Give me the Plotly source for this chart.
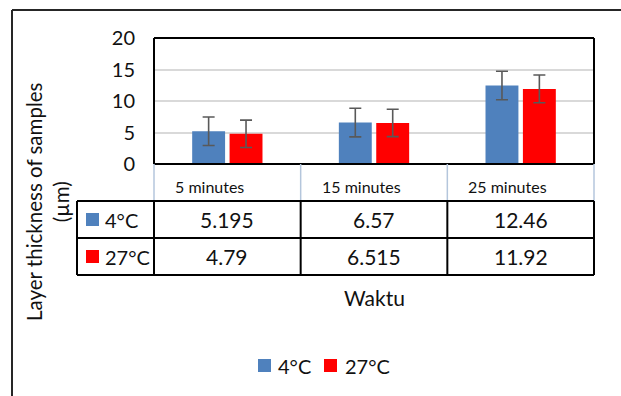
import plotly.graph_objects as go

categories = ["5 minutes", "15 minutes", "25 minutes"]
series_names = ["4°C", "27°C"]
values_4c = [5.195, 6.57, 12.46]
values_27c = [4.79, 6.515, 11.92]
err_4c = [2.27, 2.27, 2.27]
err_27c = [2.17, 2.17, 2.2]
y_ticks = [0, 5, 10, 15, 20]

W, H = 621, 396
FONT = "Lato"
TXT = "#111111"
colors = ["#4f81bd", "#ff0000"]

def px(x):
    return x / W

def py(y):
    return 1 - y / H

# layout pixel positions
PL, PR, PT, PB = 154, 594, 38, 164   # plot area
CAT_B = 201                          # category row bottom
ROW1_B, ROW2_B = 238, 275            # table rows
TL = 77                              # table left

fig = go.Figure()
for name, vals, errs, col in [(series_names[0], values_4c, err_4c, colors[0]),
                              (series_names[1], values_27c, err_27c, colors[1])]:
    fig.add_trace(go.Bar(
        x=categories, y=vals, name=name,
        marker=dict(color=col, line=dict(width=0)),
        error_y=dict(type="data", array=errs, visible=True,
                     color="#595959", thickness=1.6, width=6),
    ))

shapes = []
def line(x0, y0, x1, y1, color="#000000", width=2):
    shapes.append(dict(type="line", xref="paper", yref="paper",
                       x0=px(x0), y0=py(y0), x1=px(x1), y1=py(y1),
                       line=dict(color=color, width=width)))

# outer chart frame
line(12, 10, 621, 10, "#262626", 2)
line(12, 10, 12, 396, "#262626", 2)

# plot area border
line(PL, PT, PR, PT)
line(PL, PT, PL, PB)
line(PR, PT, PR, PB)
line(PL, PB, PR, PB)

# category row (light blue)
cat_edges = [PL + i * (PR - PL) / 3 for i in range(4)]
for xe in cat_edges:
    line(xe, PB, xe, CAT_B, "#b4c6dc", 1.5)

# data table (black)
for yy in [CAT_B, ROW1_B, ROW2_B]:
    line(TL, yy, PR, yy)
for xe in [TL] + cat_edges:
    line(xe, CAT_B, xe, ROW2_B)

annotations = []
# category labels
for i, c in enumerate(categories):
    annotations.append(dict(x=px(cat_edges[i] + 19), y=py(186), xref="paper", yref="paper",
                            text=c, showarrow=False, xanchor="left", yanchor="middle",
                            font=dict(family=FONT, size=16, color=TXT)))
# table rows
row_centers = [(CAT_B + ROW1_B) / 2, (ROW1_B + ROW2_B) / 2]
for r, (name, vals) in enumerate([(series_names[0], values_4c), (series_names[1], values_27c)]):
    yc = row_centers[r]
    shapes.append(dict(type="rect", xref="paper", yref="paper",
                       x0=px(86), x1=px(99), y0=py(yc - 6.5), y1=py(yc + 6.5),
                       fillcolor=colors[r], line=dict(width=0)))
    annotations.append(dict(x=px(103), y=py(yc), xref="paper", yref="paper", text=name,
                            showarrow=False, xanchor="left", yanchor="middle",
                            font=dict(family=FONT, size=20, color=TXT)))
    for i, v in enumerate(vals):
        annotations.append(dict(x=px((cat_edges[i] + cat_edges[i + 1]) / 2), y=py(yc),
                                xref="paper", yref="paper", text=f"{v:g}",
                                showarrow=False, xanchor="center", yanchor="middle",
                                font=dict(family=FONT, size=21, color=TXT)))

# axis titles
annotations.append(dict(x=px(48), y=py(202), xref="paper", yref="paper",
                        text="Layer thickness of samples<br>(µm)", textangle=-90,
                        showarrow=False, xanchor="center", yanchor="middle",
                        font=dict(family=FONT, size=20.5, color=TXT)))
annotations.append(dict(x=px(374), y=py(297), xref="paper", yref="paper",
                        text="Waktu", showarrow=False, xanchor="center", yanchor="middle",
                        font=dict(family=FONT, size=21, color=TXT)))

# bottom legend
legend_items = [(258, 276, series_names[0], colors[0]), (324, 343, series_names[1], colors[1])]
for sx, tx, name, col in legend_items:
    shapes.append(dict(type="rect", xref="paper", yref="paper",
                       x0=px(sx), x1=px(sx + 13), y0=py(372), y1=py(359),
                       fillcolor=col, line=dict(width=0)))
    annotations.append(dict(x=px(tx), y=py(366), xref="paper", yref="paper", text=name,
                            showarrow=False, xanchor="left", yanchor="middle",
                            font=dict(family=FONT, size=20, color=TXT)))

fig.update_layout(
    width=W, height=H,
    margin=dict(l=0, r=0, t=0, b=0, pad=0, autoexpand=False),
    paper_bgcolor="white", plot_bgcolor="white",
    barmode="group", bargap=0.49, bargroupgap=0.12,
    showlegend=False,
    font=dict(family=FONT, color=TXT),
    xaxis=dict(domain=[px(PL), px(PR)], showticklabels=False, showgrid=False,
               zeroline=False, showline=False, ticks="", range=[-0.5, 2.5],
               automargin=False),
    yaxis=dict(domain=[py(PB), py(PT)], range=[0, 20], tickvals=y_ticks,
               showgrid=True, gridcolor="#d9d9d9", gridwidth=1.5,
               zeroline=False, showline=False, ticks="",
               tickfont=dict(family=FONT, size=20, color=TXT),
               ticklabelstandoff=18, automargin=False),
    shapes=shapes,
    annotations=annotations,
)

fig.write_html("out.html", config={"displayModeBar": False},
               post_script="document.body.style.margin='0';document.body.style.overflow='hidden';")
